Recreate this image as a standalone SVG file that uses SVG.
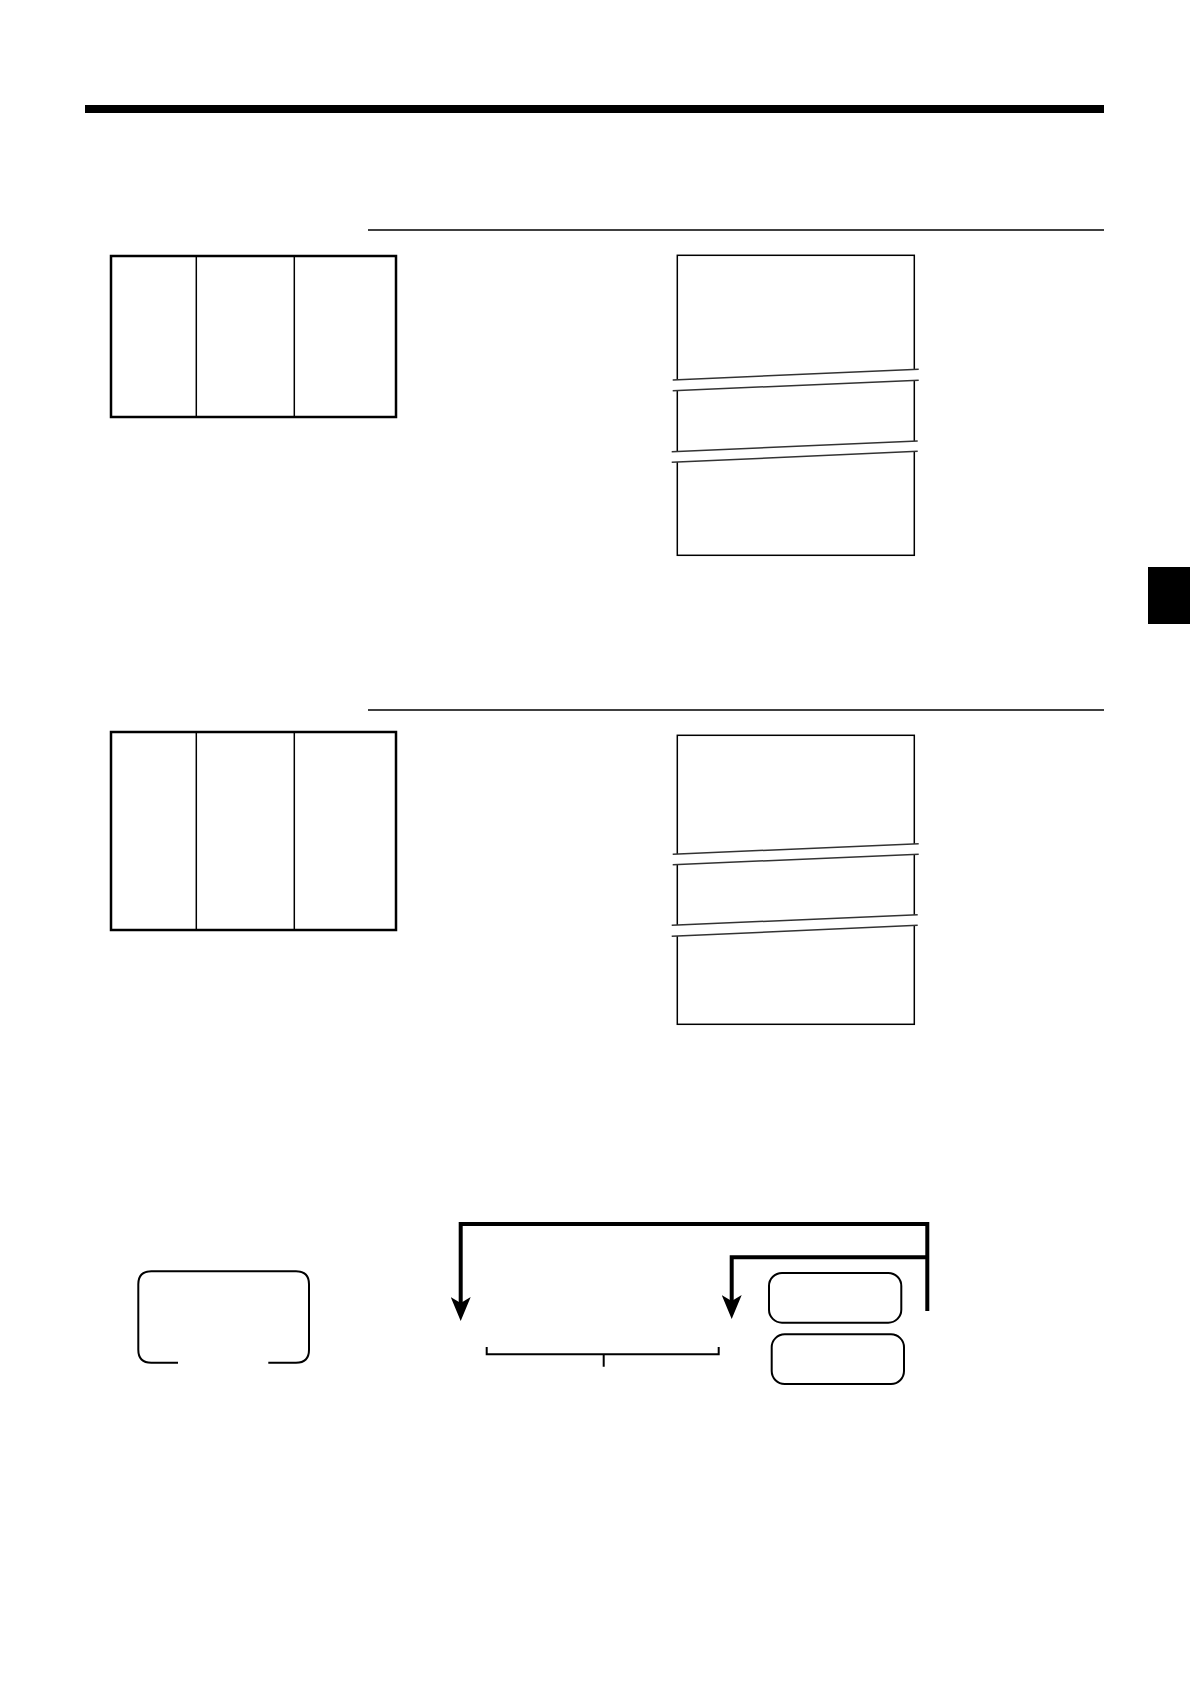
<svg xmlns="http://www.w3.org/2000/svg" width="1190" height="1684" viewBox="0 0 1190 1684">
<style>
.thin{fill:none;stroke:#000;stroke-width:1.3}
.tbl{fill:none;stroke:#000;stroke-width:2.5}
.div{fill:none;stroke:#000;stroke-width:1.5}
.rcpt{fill:#fff;stroke:#000;stroke-width:1.5}
.brk{fill:none;stroke:#333;stroke-width:1.5}
.gap{fill:#fff;stroke:none}
.key{fill:#fff;stroke:#000;stroke-width:2}
.flow{fill:none;stroke:#000;stroke-width:4}
</style>
<defs>
<marker id="ah" viewBox="0 0 24 20" refX="8" refY="10" markerWidth="24" markerHeight="20" markerUnits="userSpaceOnUse" orient="auto">
<path d="M0,0 L6,10 L0,20 L24,10 Z" fill="#000"/>
</marker>
</defs>
<rect width="1190" height="1684" fill="#fff"/>
<rect x="85" y="105" width="1019" height="8" fill="#000"/>
<rect x="1148" y="567" width="42" height="57" fill="#000"/>
<line class="thin" x1="368" y1="230" x2="1104" y2="230"/>
<line class="thin" x1="368" y1="710" x2="1104" y2="710"/>

<g id="table1">
<rect class="tbl" x="111" y="256" width="285" height="161"/>
<line class="div" x1="196.3" y1="256" x2="196.3" y2="417"/>
<line class="div" x1="294.3" y1="256" x2="294.3" y2="417"/>
</g>

<g id="receipt1">
<rect class="rcpt" x="677.3" y="255.3" width="237" height="300"/>
<polygon class="gap" points="672.7,380 918.7,369.3 918.7,380.3 672.7,390.7"/>
<polygon class="gap" points="671.7,451.7 917.7,441 917.7,451.3 671.7,462.3"/>
<line class="brk" x1="672.7" y1="380" x2="918.7" y2="369.3"/>
<line class="brk" x1="672.7" y1="390.7" x2="918.7" y2="380.3"/>
<line class="brk" x1="671.7" y1="451.7" x2="917.7" y2="441"/>
<line class="brk" x1="671.7" y1="462.3" x2="917.7" y2="451.3"/>
</g>

<g id="table2">
<rect class="tbl" x="111" y="732" width="285" height="198"/>
<line class="div" x1="196.3" y1="732" x2="196.3" y2="930"/>
<line class="div" x1="294.3" y1="732" x2="294.3" y2="930"/>
</g>

<g id="receipt2">
<rect class="rcpt" x="677.3" y="735.3" width="237" height="289"/>
<polygon class="gap" points="672.7,854.3 918.7,843.7 918.7,854.3 672.7,864.7"/>
<polygon class="gap" points="671.7,925.3 917.7,914.7 917.7,925.3 671.7,936.3"/>
<line class="brk" x1="672.7" y1="854.3" x2="918.7" y2="843.7"/>
<line class="brk" x1="672.7" y1="864.7" x2="918.7" y2="854.3"/>
<line class="brk" x1="671.7" y1="925.3" x2="917.7" y2="914.7"/>
<line class="brk" x1="671.7" y1="936.3" x2="917.7" y2="925.3"/>
</g>

<g id="key-open">
<path class="key" style="fill:none" d="M178,1362.7 L151.3,1362.7 Q138.3,1362.7 138.3,1349.7 L138.3,1284.3 Q138.3,1271.3 151.3,1271.3 L296,1271.3 Q309,1271.3 309,1284.3 L309,1349.7 Q309,1362.7 296,1362.7 L268.3,1362.7"/>
</g>

<g id="key-a">
<rect class="key" x="769" y="1273" width="132.3" height="49.7" rx="13"/>
</g>
<g id="key-b">
<rect class="key" x="771.7" y="1334.3" width="132.3" height="49.7" rx="13"/>
</g>

<g id="bracket">
<path class="div" style="stroke-width:2" d="M486.7,1347 L486.7,1354.3 L718.7,1354.3 L718.7,1347 M603.7,1354.3 L603.7,1366.7"/>
</g>

<g id="connectors">
<path class="flow" d="M927.3,1311 L927.3,1224 L460.7,1224 L460.7,1305" marker-end="url(#ah)"/>
<path class="flow" d="M927.3,1257.3 L731.7,1257.3 L731.7,1303" marker-end="url(#ah)"/>
</g>
</svg>
